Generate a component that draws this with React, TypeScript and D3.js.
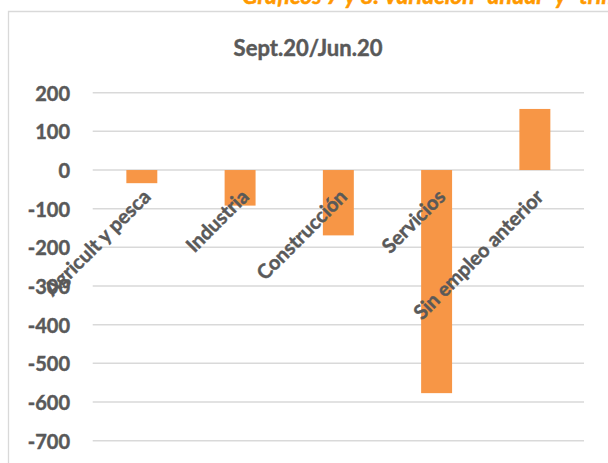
import React from "react";
import * as d3 from "d3";

const categories: string[] = ["Agricult y pesca", "Industria", "Construcción", "Servicios", "Sin empleo anterior"];
const values: number[] = [-34, -92, -169, -577, 158];
const tickValues: number[] = [200, 100, 0, -100, -200, -300, -400, -500, -600, -700];
const chartTitle = "Sept.20/Jun.20";
const pageHeading = "Gráficos 7 y 8. Variación \"anual\" y \"trimestral\"";

const W = 608;
const H = 463;
const FONT = "Lato, 'Open Sans', sans-serif";
const TEXT = "#595959";
const GRID = "#d9d9d9";
const BAR = "#F79646";

export default function App() {
  const x = d3
    .scaleBand<string>()
    .domain(categories)
    .range([92.7, 584])
    .paddingInner(0.685)
    .paddingOuter(0.3425);
  const y = d3.scaleLinear().domain([-700, 200]).range([440.7, 92.7]);
  const y0 = y(0);
  const heavy = { stroke: TEXT, strokeWidth: 0.45 };

  return (
    <svg
      width={W}
      height={H}
      style={{ position: "absolute", left: 0, top: 0, background: "#fff" }}
      fontFamily={FONT}
    >
      <rect x={0} y={0} width={W} height={H} fill="#fff" />
      <text
        x={242}
        y={4}
        fill="#FF9900"
        stroke="#FF9900"
        strokeWidth={0.5}
        fontSize={23}
        fontWeight="bold"
        fontStyle="italic"
      >
        {pageHeading}
      </text>
      {/* chart frame */}
      <path d={`M8.5,${H + 2} V11.5 H${W + 2}`} fill="none" stroke={GRID} strokeWidth={1.3} />
      <text
        x={308}
        y={47}
        textAnchor="middle"
        dominantBaseline="central"
        fill={TEXT}
        {...heavy}
        fontSize={22}
        fontWeight="bold"
      >
        {chartTitle}
      </text>
      {/* gridlines */}
      {tickValues.map((t) => (
        <line
          key={"g" + t}
          x1={92.7}
          x2={584}
          y1={y(t)}
          y2={y(t)}
          stroke={GRID}
          strokeWidth={1.5}
        />
      ))}
      {/* tick labels */}
      {tickValues.map((t) => (
        <text
          key={"t" + t}
          x={70}
          y={y(t)}
          textAnchor="end"
          dominantBaseline="central"
          fill={TEXT}
          {...heavy}
          fontSize={20}
          fontWeight="bold"
        >
          {String(t)}
        </text>
      ))}
      {/* bars */}
      {categories.map((c, i) => {
        const v = values[i];
        const top = Math.min(y(v), y0);
        const h = Math.abs(y(v) - y0);
        return (
          <rect
            key={"b" + c}
            x={x(c)}
            y={top}
            width={x.bandwidth()}
            height={h}
            fill={BAR}
          />
        );
      })}
      {/* category labels */}
      {categories.map((c) => {
        const cx = (x(c) as number) + x.bandwidth() / 2;
        return (
          <text
            key={"c" + c}
            transform={`translate(${cx + 10},${198}) rotate(-45)`}
            textAnchor="end"
            fill={TEXT}
            {...heavy}
            fontSize={20}
            fontWeight="bold"
          >
            {c}
          </text>
        );
      })}
    </svg>
  );
}
